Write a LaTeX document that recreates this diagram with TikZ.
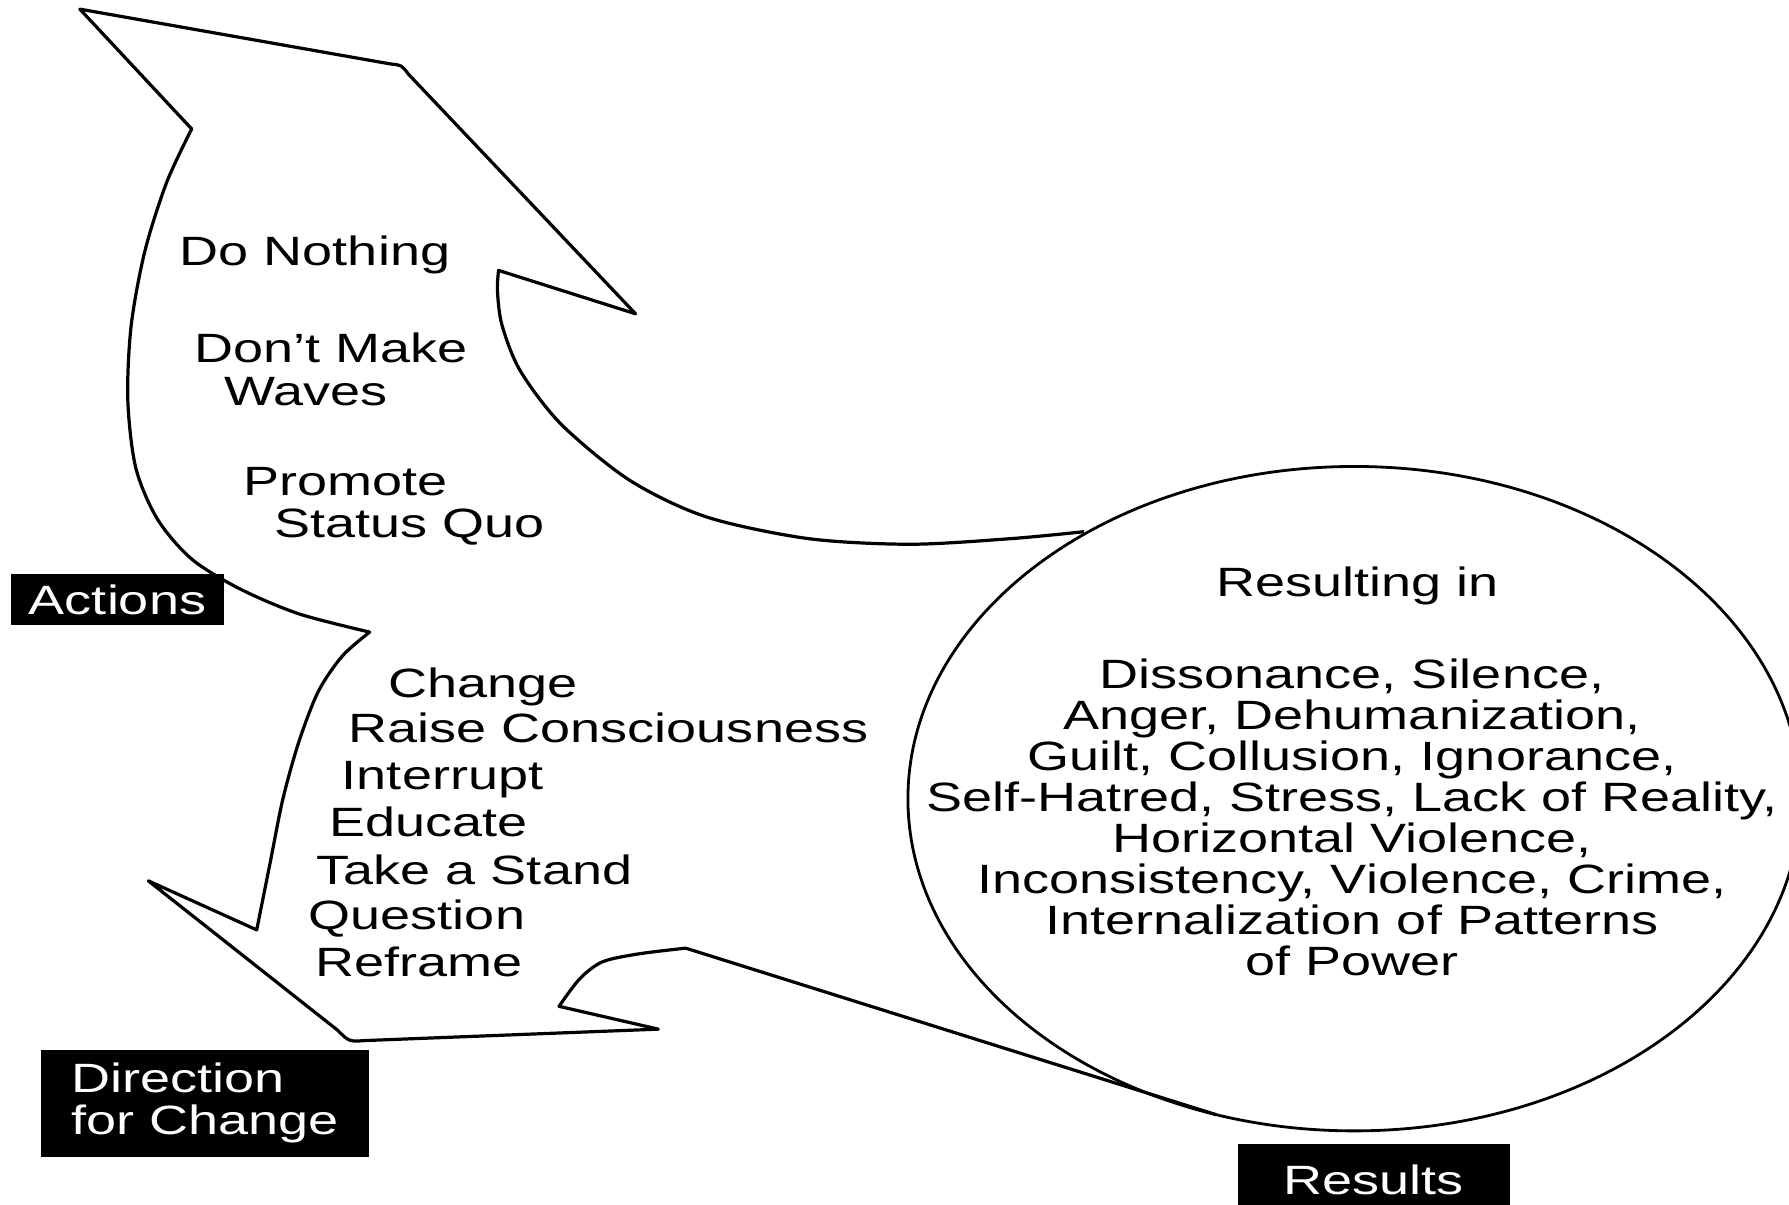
\documentclass[tikz,border=0pt]{standalone}
\usepackage{fontspec}
\setmainfont{Liberation Sans}[FakeStretch=1.32]
\usepackage{tikz}
\usetikzlibrary{shapes.geometric}

\begin{document}
\begin{tikzpicture}[
  x=0.01cm,
  y=-0.01cm,
  outline/.style={line width=0.8pt, line join=round},
  oval/.style={ellipse, draw, line width=0.7pt, minimum width=7.82cm, minimum height=5.82cm, inner sep=0pt},
  item/.style={anchor=base west, inner sep=0pt, font=\fontsize{10.2}{10.2}\selectfont},
  tag/.style={fill=black, text=white, inner sep=0pt, font=\fontsize{10.2}{10.5}\selectfont},
]
\useasboundingbox (0,0) rectangle (1568,1056);

% Results oval
\node[oval] (outcome) at (1187,700) {};

% Outline points
\coordinate (joinA) at (950,466);   % upper curve meets oval
\coordinate (notchA) at (437,237);
\coordinate (barbA) at (557,275);
\coordinate (tipA) at (70,8);
\coordinate (notchB) at (168,113);
\coordinate (kink) at (324,554);
\coordinate (notchC) at (225,815);
\coordinate (barbC) at (130,772);
\coordinate (barbD) at (577,902);
\coordinate (notchD) at (490,882);
\coordinate (crest) at (601,831);
\coordinate (joinB) at (1066,977);  % lower line meets oval

% Double arrow outline
\draw[outline] (joinA)
  -- plot[smooth] coordinates {(950,466) (887,472) (798,477) (708,472) (619,453)
       (552,421) (492,372) (456,325) (440,285) (436,255) (437,237)}
  -- (barbA) -- (358,65) .. controls (352,57) .. (342,56) -- (tipA) -- (notchB)
  -- plot[smooth] coordinates {(168,113) (146,160) (127,220) (115,285) (112,350)
       (119,410) (138,455) (168,490) (210,516) (262,538) (324,554)}
  -- plot[smooth] coordinates {(324,554) (300,575) (279,606) (262,650) (248,700)
       (237,755) (230,790) (225,815)}
  -- (barbC) -- (296,903) .. controls (306,913) .. (320,912) -- (barbD) -- (notchD)
  -- plot[smooth] coordinates {(490,882) (508,858) (528,843) (560,836) (601,831)}
  -- (joinB);

% Actions list
\node[item] (nothing) at (157,233) {Do Nothing};
\node[item] (waves1) at (170,318) {Don’t Make};
\node[item] (waves2) at (196,355) {Waves};
\node[item] (quo1) at (213,434) {Promote};
\node[item] (quo2) at (240,471) {Status Quo};

% Direction list
\foreach \x/\y/\t [count=\i] in {340/611/Change, 305/651/Raise Consciousness,
    299/692/Interrupt, 288/733/Educate, 277/775/Take a Stand,
    270/815/Question, 276/856/Reframe}
  \node[item] (dir\i) at (\x,\y) {\t};

% Results text
\node[item, anchor=base] (resulting) at (1190,523) {Resulting in};
\foreach \t [count=\i] in {{Dissonance, Silence,}, {Anger, Dehumanization,},
    {Guilt, Collusion, Ignorance,}, {Self-Hatred, Stress, Lack of Reality,},
    {Horizontal Violence,}, {Inconsistency, Violence, Crime,},
    {Internalization of Patterns}, {of Power}}
  \node[item, anchor=base] (eff\i) at (1185,{567+36*\i}) {\t};

% Black tags
\node[tag, minimum width=1.86cm, minimum height=0.45cm] (actions) at (103,525.5) {Actions};
\node[tag, minimum width=2.87cm, minimum height=0.94cm, align=left] (direction) at (179.5,967) {Direction\\for Change};
\node[tag, minimum width=2.38cm, minimum height=0.62cm, anchor=north] (results) at (1204,1002) {Results};

\end{tikzpicture}
\end{document}
